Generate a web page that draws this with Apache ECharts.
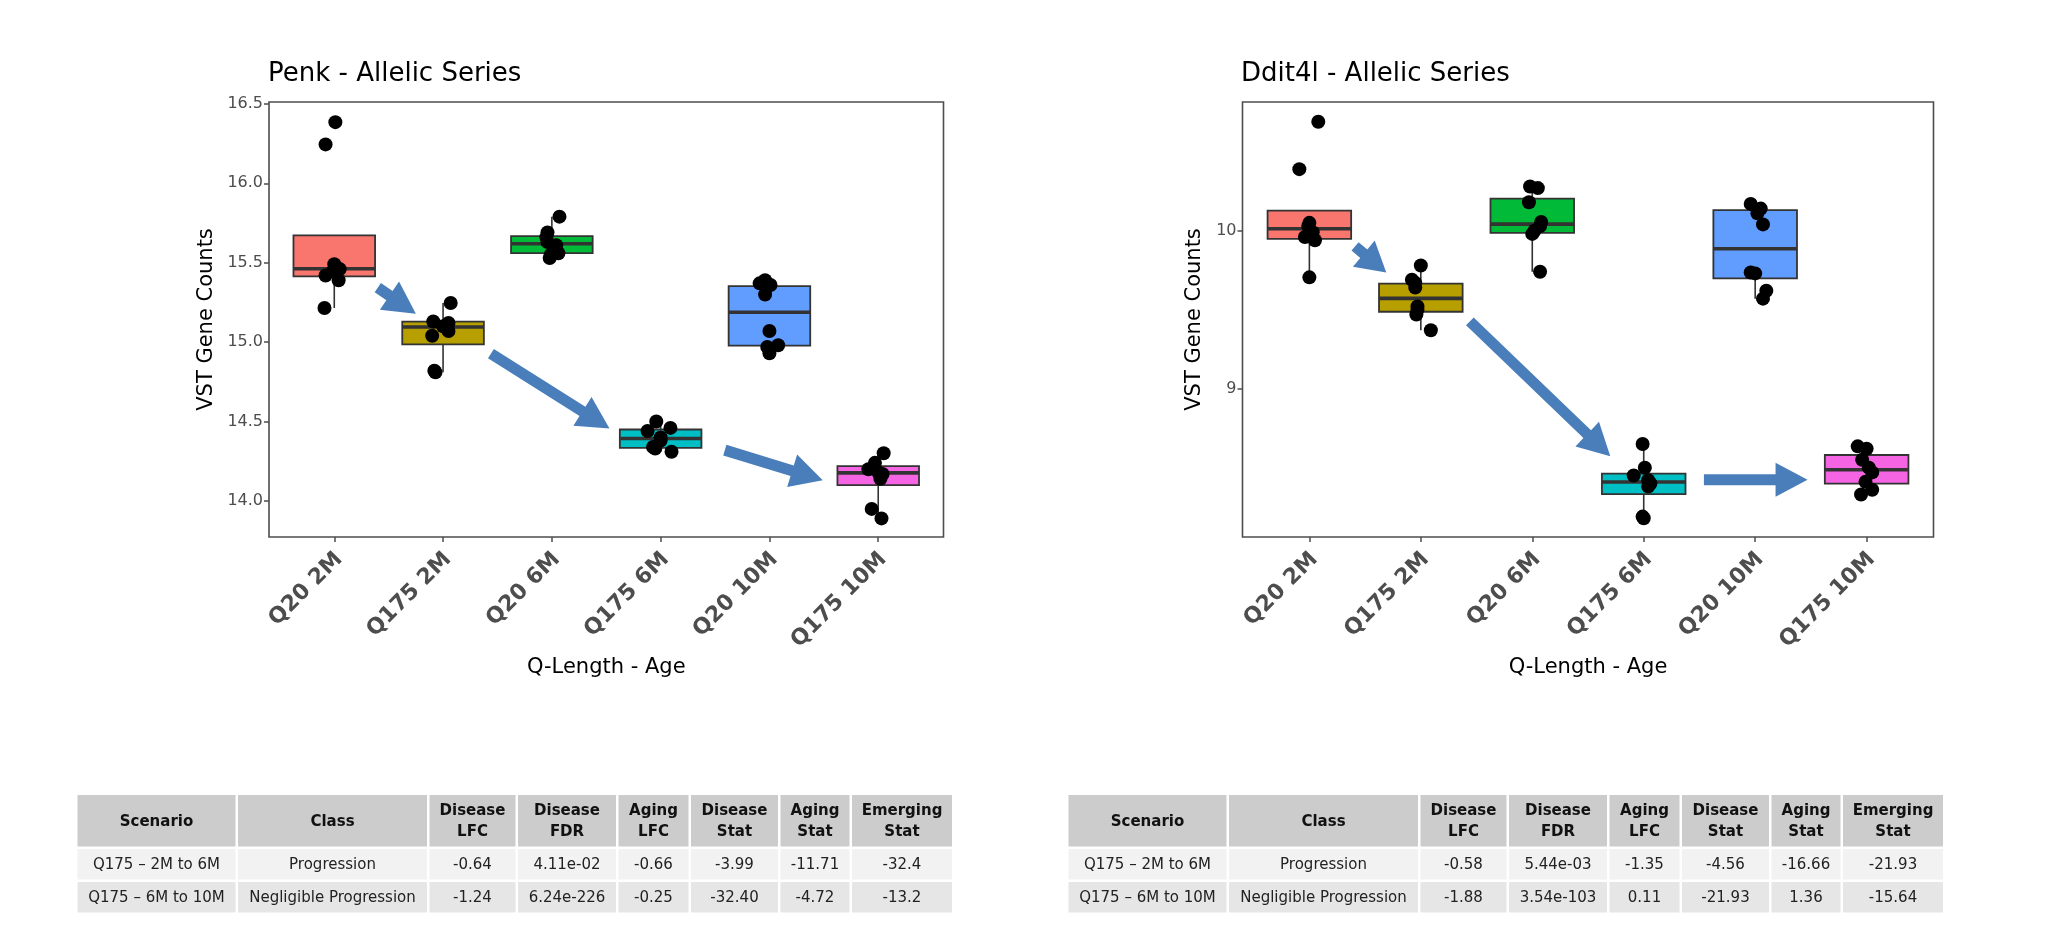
<!DOCTYPE html>
<html>
<head>
<meta charset="utf-8">
<title>Allelic Series</title>
<script src="https://cdn.jsdelivr.net/npm/echarts@6/dist/echarts.min.js"></script>
<style>
  html, body { margin: 0; padding: 0; background: #ffffff; }
  #chart { width: 2052px; height: 925px; }
</style>
</head>
<body>
<div id="chart"></div>
<script>
// ---- Groups (Q-length x age) and their fill colours ----
const categories = ['Q20 2M', 'Q175 2M', 'Q20 6M', 'Q175 6M', 'Q20 10M', 'Q175 10M'];
const boxColors = ['#F8766D', '#B79F00', '#00BA38', '#00BFC4', '#619CFF', '#F564E3'];

// ---- Penk: per-sample VST counts and horizontal jitter (in group units) ----
const penkValues = [
  [16.385, 16.245, 15.49, 15.46, 15.45, 15.42, 15.39, 15.215],
  [15.246, 15.13, 15.12, 15.10, 15.07, 15.04, 14.82, 14.81],
  [15.79, 15.69, 15.66, 15.63, 15.61, 15.56, 15.55, 15.53],
  [14.50, 14.46, 14.44, 14.40, 14.38, 14.34, 14.33, 14.31],
  [15.39, 15.37, 15.36, 15.30, 15.07, 14.98, 14.97, 14.93],
  [14.30, 14.24, 14.20, 14.18, 14.17, 14.14, 13.95, 13.89]
];
const penkJitter = [
  [0.01, -0.08, 0.0, 0.05, -0.01, -0.08, 0.04, -0.09],
  [0.07, -0.09, 0.05, 0.0, 0.05, -0.10, -0.08, -0.07],
  [0.07, -0.04, -0.05, -0.04, 0.04, 0.06, -0.01, -0.02],
  [-0.04, 0.09, -0.12, 0.0, 0.0, -0.07, -0.05, 0.10],
  [-0.04, -0.09, 0.01, -0.04, 0.0, 0.08, -0.02, 0.0],
  [0.05, -0.03, -0.09, 0.0, 0.04, 0.02, -0.06, 0.03]
];
// box statistics: [lower whisker, Q1, median, Q3, upper whisker]
const penkBoxes = [
  [15.215, 15.414, 15.462, 15.672, 15.672],
  [14.81, 14.986, 15.095, 15.129, 15.246],
  [15.53, 15.561, 15.619, 15.668, 15.79],
  [14.31, 14.334, 14.393, 14.45, 14.50],
  [14.93, 14.978, 15.188, 15.353, 15.39],
  [13.89, 14.10, 14.177, 14.219, 14.30]
];
const penkTicks = [14.0, 14.5, 15.0, 15.5, 16.0, 16.5];
// progression arrows: [x from, y from, x to, y to]
const penkArrows = [
  [1.40, 15.343, 1.75, 15.179],
  [2.44, 14.928, 3.53, 14.456],
  [4.59, 14.32, 5.49, 14.131]
];

// ---- Ddit4l ----
const ddit4lValues = [
  [10.69, 10.39, 10.05, 10.03, 9.99, 9.96, 9.94, 9.705],
  [9.78, 9.69, 9.67, 9.64, 9.52, 9.50, 9.47, 9.37],
  [10.28, 10.27, 10.18, 10.055, 10.03, 10.00, 9.98, 9.74],
  [8.65, 8.50, 8.45, 8.42, 8.40, 8.38, 8.19, 8.18],
  [10.17, 10.14, 10.11, 10.04, 9.736, 9.73, 9.62, 9.57],
  [8.635, 8.62, 8.55, 8.50, 8.47, 8.41, 8.36, 8.33]
];
const ddit4lJitter = [
  [0.08, -0.09, 0.0, -0.01, 0.03, -0.04, 0.05, 0.0],
  [0.0, -0.08, -0.05, -0.05, -0.03, -0.03, -0.04, 0.09],
  [-0.02, 0.05, -0.03, 0.08, 0.07, 0.02, 0.0, 0.07],
  [-0.01, 0.01, -0.09, 0.04, 0.06, 0.04, -0.01, 0.0],
  [-0.04, 0.05, 0.02, 0.07, -0.04, 0.0, 0.10, 0.07],
  [-0.08, 0.0, -0.04, 0.02, 0.05, -0.01, 0.05, -0.05]
];
const ddit4lBoxes = [
  [9.705, 9.949, 10.013, 10.127, 10.127],
  [9.37, 9.487, 9.572, 9.665, 9.78],
  [9.74, 9.987, 10.042, 10.203, 10.28],
  [8.18, 8.333, 8.409, 8.462, 8.65],
  [9.57, 9.698, 9.886, 10.131, 10.17],
  [8.33, 8.399, 8.487, 8.580, 8.635]
];
const ddit4lTicks = [9, 10];
const ddit4lArrows = [
  [1.41, 9.901, 1.69, 9.736],
  [2.44, 9.426, 3.70, 8.572],
  [4.54, 8.424, 5.47, 8.424]
];

// ---- Summary tables ----
const tableHeader = ['Scenario', 'Class', 'Disease\nLFC', 'Disease\nFDR', 'Aging\nLFC', 'Disease\nStat', 'Aging\nStat', 'Emerging\nStat'];
const penkRows = [
  ['Q175 \u2013 2M to 6M', 'Progression', '-0.64', '4.11e-02', '-0.66', '-3.99', '-11.71', '-32.4'],
  ['Q175 \u2013 6M to 10M', 'Negligible Progression', '-1.24', '6.24e-226', '-0.25', '-32.40', '-4.72', '-13.2']
];
const ddit4lRows = [
  ['Q175 \u2013 2M to 6M', 'Progression', '-0.58', '5.44e-03', '-1.35', '-4.56', '-16.66', '-21.93'],
  ['Q175 \u2013 6M to 10M', 'Negligible Progression', '-1.88', '3.54e-103', '0.11', '-21.93', '1.36', '-15.64']
];

const FONT = '"DejaVu Sans", "Noto Sans", sans-serif';
const AXIS_GREY = '#4d4d4d';
const ARROW_BLUE = '#4A7EBB';
const positions = categories.map((c, i) => i + 1);

// draws one box: whiskers, IQR rectangle and a heavy median bar
function renderBox(params, api) {
  const x = api.value(0);
  const lo = api.coord([x, api.value(1)]);
  const q1 = api.coord([x, api.value(2)]);
  const md = api.coord([x, api.value(3)]);
  const q3 = api.coord([x, api.value(4)]);
  const hi = api.coord([x, api.value(5)]);
  const w = api.size([0.75, 0])[0];
  const whisker = { stroke: '#333333', lineWidth: 1.6 };
  return {
    type: 'group',
    children: [
      { type: 'line', shape: { x1: lo[0], y1: lo[1], x2: q1[0], y2: q1[1] }, style: whisker },
      { type: 'line', shape: { x1: q3[0], y1: q3[1], x2: hi[0], y2: hi[1] }, style: whisker },
      { type: 'rect', shape: { x: q3[0] - w / 2, y: q3[1], width: w, height: q1[1] - q3[1] },
        style: { fill: boxColors[params.dataIndex], stroke: '#333333', lineWidth: 1.8 } },
      { type: 'line', shape: { x1: md[0] - w / 2, y1: md[1], x2: md[0] + w / 2, y2: md[1] },
        style: { stroke: '#333333', lineWidth: 3.6 } }
    ]
  };
}

// block arrow between two data positions
function renderArrow(params, api) {
  const a = api.coord([api.value(0), api.value(1)]);
  const b = api.coord([api.value(2), api.value(3)]);
  const dx = b[0] - a[0], dy = b[1] - a[1];
  const len = Math.hypot(dx, dy);
  const ux = dx / len, uy = dy / len, nx = -uy, ny = ux;
  const sw = 5.5, hw = 17, hl = Math.min(32, len * 0.72);
  const cx = b[0] - ux * hl, cy = b[1] - uy * hl;
  const pts = [
    [a[0] + nx * sw, a[1] + ny * sw],
    [cx + nx * sw, cy + ny * sw],
    [cx + nx * hw, cy + ny * hw],
    [b[0], b[1]],
    [cx - nx * hw, cy - ny * hw],
    [cx - nx * sw, cy - ny * sw],
    [a[0] - nx * sw, a[1] - ny * sw]
  ];
  return { type: 'polygon', shape: { points: pts }, style: { fill: ARROW_BLUE } };
}

function boxData(boxes) {
  return boxes.map((b, i) => [positions[i]].concat(b));
}
function pointData(values, jitter) {
  const out = [];
  values.forEach((vals, i) => {
    vals.forEach((v, j) => out.push([positions[i] + jitter[i][j], v]));
  });
  return out;
}

function xAxisFor(gridIndex) {
  return {
    gridIndex: gridIndex, type: 'value', min: 0.4, max: 6.6,
    splitLine: { show: false }, axisLine: { show: false },
    axisTick: { show: true, customValues: positions, length: 5, lineStyle: { color: AXIS_GREY, width: 1.5 } },
    axisLabel: {
      customValues: positions, rotate: 45, margin: 14, align: 'right', verticalAlign: 'top', lineHeight: 14,
      formatter: (v) => categories[Math.round(v) - 1],
      fontFamily: FONT, fontSize: 22, fontWeight: 'bold', color: AXIS_GREY
    },
    name: 'Q-Length - Age', nameLocation: 'middle', nameGap: 120,
    nameTextStyle: { fontFamily: FONT, fontSize: 21, color: '#000000' }
  };
}
function yAxisFor(gridIndex, min, max, ticks, digits, gap) {
  return {
    gridIndex: gridIndex, type: 'value', min: min, max: max,
    splitLine: { show: false }, axisLine: { show: false },
    axisTick: { show: true, customValues: ticks, length: 5, lineStyle: { color: AXIS_GREY, width: 1.5 } },
    axisLabel: {
      customValues: ticks, margin: 6,
      formatter: (v) => v.toFixed(digits),
      fontFamily: FONT, fontSize: 16, color: AXIS_GREY
    },
    name: 'VST Gene Counts', nameLocation: 'middle', nameGap: gap,
    nameTextStyle: { fontFamily: FONT, fontSize: 21, color: '#000000' }
  };
}

function tableGraphics(x0, rows) {
  const colWidths = [160.5, 191.5, 88.5, 100.5, 72.5, 89.5, 71.5, 102.5];
  const y0 = 795, headH = 51.5, rowH = 30.5, gap = 2.5;
  const rowFills = ['#F2F2F2', '#E6E6E6'];
  const els = [];
  let x = x0;
  colWidths.forEach((w, ci) => {
    const cw = w - gap;
    els.push({ type: 'rect', shape: { x: x, y: y0, width: cw, height: headH }, style: { fill: '#CCCCCC' }, silent: true });
    els.push({ type: 'text', x: x + cw / 2, y: y0 + headH / 2 + 1,
      style: { text: tableHeader[ci], fontFamily: FONT, fontSize: 15, fontWeight: 'bold', fill: '#111111',
               align: 'center', verticalAlign: 'middle', lineHeight: 21 }, silent: true });
    rows.forEach((r, ri) => {
      const y = y0 + headH + gap + ri * (rowH + gap);
      els.push({ type: 'rect', shape: { x: x, y: y, width: cw, height: rowH }, style: { fill: rowFills[ri] }, silent: true });
      els.push({ type: 'text', x: x + cw / 2, y: y + rowH / 2 + 1,
        style: { text: r[ci], fontFamily: FONT, fontSize: 15, fill: '#222222', align: 'center', verticalAlign: 'middle' }, silent: true });
    });
    x += w;
  });
  return els;
}

const chart = echarts.init(document.getElementById('chart'), null, { renderer: 'canvas' });

const option = {
  backgroundColor: '#ffffff',
  animation: false,
  title: [
    { text: 'Penk - Allelic Series', left: 268, top: 61, padding: 0,
      textStyle: { fontFamily: FONT, fontSize: 26, fontWeight: 'normal', color: '#000000' } },
    { text: 'Ddit4l - Allelic Series', left: 1241, top: 61, padding: 0,
      textStyle: { fontFamily: FONT, fontSize: 26, fontWeight: 'normal', color: '#000000' } }
  ],
  grid: [
    { left: 269, top: 102, width: 674.5, height: 435, show: true, borderColor: AXIS_GREY, borderWidth: 1.6, backgroundColor: '#ffffff' },
    { left: 1242.5, top: 102, width: 691, height: 435, show: true, borderColor: AXIS_GREY, borderWidth: 1.6, backgroundColor: '#ffffff' }
  ],
  xAxis: [xAxisFor(0), xAxisFor(1)],
  yAxis: [
    yAxisFor(0, 13.773, 16.512, penkTicks, 1, 52),
    yAxisFor(1, 8.061, 10.815, ddit4lTicks, 0, 37)
  ],
  series: [
    { type: 'custom', xAxisIndex: 0, yAxisIndex: 0, renderItem: renderBox,
      encode: { x: 0, y: [1, 2, 3, 4, 5] }, data: boxData(penkBoxes), z: 2 },
    { type: 'scatter', xAxisIndex: 0, yAxisIndex: 0, data: pointData(penkValues, penkJitter),
      symbol: 'circle', symbolSize: 14, itemStyle: { color: '#000000', opacity: 1 }, z: 3 },
    { type: 'custom', xAxisIndex: 0, yAxisIndex: 0, renderItem: renderArrow,
      encode: { x: [0, 2], y: [1, 3] }, data: penkArrows, z: 4 },
    { type: 'custom', xAxisIndex: 1, yAxisIndex: 1, renderItem: renderBox,
      encode: { x: 0, y: [1, 2, 3, 4, 5] }, data: boxData(ddit4lBoxes), z: 2 },
    { type: 'scatter', xAxisIndex: 1, yAxisIndex: 1, data: pointData(ddit4lValues, ddit4lJitter),
      symbol: 'circle', symbolSize: 14, itemStyle: { color: '#000000', opacity: 1 }, z: 3 },
    { type: 'custom', xAxisIndex: 1, yAxisIndex: 1, renderItem: renderArrow,
      encode: { x: [0, 2], y: [1, 3] }, data: ddit4lArrows, z: 4 }
  ],
  graphic: tableGraphics(77.5, penkRows).concat(tableGraphics(1068.5, ddit4lRows))
};

chart.setOption(option);
</script>
</body>
</html>
